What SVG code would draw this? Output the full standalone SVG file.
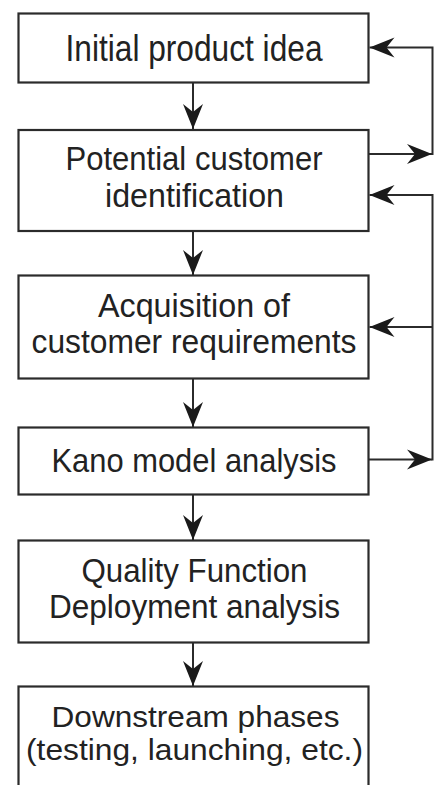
<svg xmlns="http://www.w3.org/2000/svg" width="443" height="785" viewBox="0 0 443 785">
<style>
.box{fill:#fff;stroke:#2b2b2b;stroke-width:2.2}
.t{font-family:"Liberation Sans",Arial,sans-serif;font-size:33px;fill:#222;text-anchor:middle}
.c{fill:none;stroke:#2b2b2b;stroke-width:2}
</style>
<defs>
<marker id="ah" viewBox="-26 -11 27 22" refX="0" refY="0" markerWidth="27" markerHeight="22" markerUnits="userSpaceOnUse" orient="auto">
<path d="M0,0 L-25,-10 L-17,0 L-25,10 Z" fill="#1a1a1a"/>
</marker>
</defs>
<rect width="443" height="785" fill="#fff"/>
<g id="connectors">
<path class="c" d="M193,82.5 V129" marker-end="url(#ah)"/>
<path class="c" d="M193,231 V275" marker-end="url(#ah)"/>
<path class="c" d="M193,378.5 V427" marker-end="url(#ah)"/>
<path class="c" d="M193,494.5 V540" marker-end="url(#ah)"/>
<path class="c" d="M193,642.5 V686" marker-end="url(#ah)"/>
<path class="c" d="M368.5,154 H432" marker-end="url(#ah)"/>
<path class="c" d="M432.5,155 V47.5 H369.5" marker-end="url(#ah)"/>
<path class="c" d="M368.5,459.5 H432" marker-end="url(#ah)"/>
<path class="c" d="M432.5,460.5 V195 H369.5" marker-end="url(#ah)"/>
<path class="c" d="M432.5,327 H369.5" marker-end="url(#ah)"/>
</g>
<g id="n1">
<rect class="box" x="18.5" y="13.5" width="350" height="69"/>
<text class="t" x="194" y="60.7" style="font-size:37px" textLength="257" lengthAdjust="spacingAndGlyphs">Initial product idea</text>
</g>
<g id="n2">
<rect class="box" x="18.5" y="130" width="350" height="101"/>
<text class="t" x="194" y="170" textLength="257" lengthAdjust="spacingAndGlyphs">Potential customer</text>
<text class="t" x="194.5" y="206.7" textLength="179" lengthAdjust="spacingAndGlyphs">identification</text>
</g>
<g id="n3">
<rect class="box" x="18.5" y="275.5" width="350" height="103"/>
<text class="t" x="194" y="316.7" textLength="192" lengthAdjust="spacingAndGlyphs">Acquisition of</text>
<text class="t" x="194" y="352.7" textLength="325" lengthAdjust="spacingAndGlyphs">customer requirements</text>
</g>
<g id="n4">
<rect class="box" x="18.5" y="427.5" width="350" height="67"/>
<text class="t" x="194" y="471.7" textLength="285" lengthAdjust="spacingAndGlyphs">Kano model analysis</text>
</g>
<g id="n5">
<rect class="box" x="18.5" y="540.5" width="350" height="102"/>
<text class="t" x="194.5" y="581.7" textLength="226" lengthAdjust="spacingAndGlyphs">Quality Function</text>
<text class="t" x="194.5" y="618.3" textLength="291" lengthAdjust="spacingAndGlyphs">Deployment analysis</text>
</g>
<g id="n6">
<rect class="box" x="18.5" y="686.5" width="350" height="120"/>
<text class="t" x="195.5" y="726.7" style="font-size:30px" textLength="288" lengthAdjust="spacingAndGlyphs">Downstream phases</text>
<text class="t" x="194.5" y="760" style="font-size:30px" textLength="337" lengthAdjust="spacingAndGlyphs">(testing, launching, etc.)</text>
</g>
</svg>
